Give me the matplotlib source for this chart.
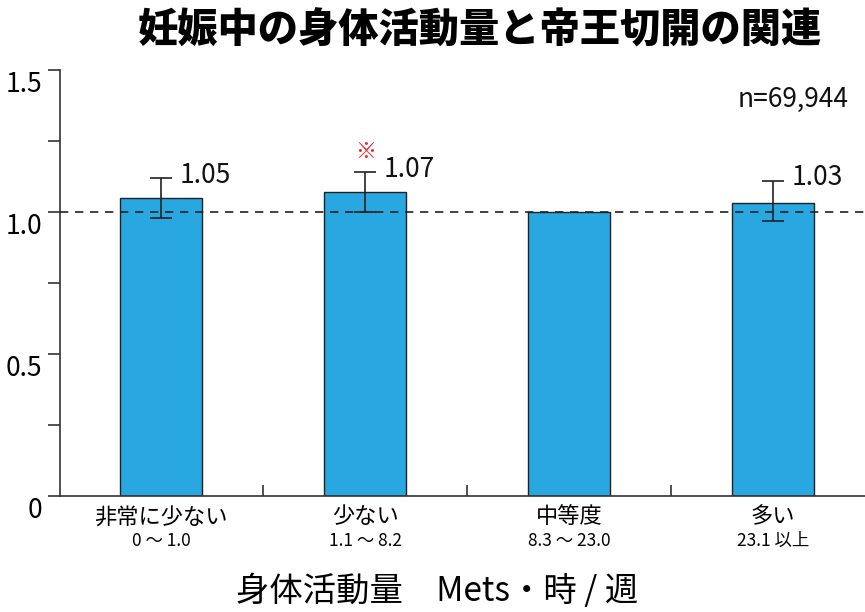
import numpy as np
import matplotlib.pyplot as plt
from matplotlib.ticker import MultipleLocator, FixedLocator
from matplotlib.transforms import ScaledTranslation

plt.rcParams['font.family'] = ['Noto Sans CJK JP', 'DejaVu Sans']

categories = ['非常に少ない', '少ない', '中等度', '多い']
ranges = ['0 〜 1.0', '1.1 〜 8.2', '8.3 〜 23.0', '23.1 以上']
odds = [1.05, 1.07, 1.00, 1.03]
ci_low = [0.98, 1.00, np.nan, 0.97]
ci_high = [1.12, 1.14, np.nan, 1.11]
labels = ['1.05', '1.07', '', '1.03']
significant = [False, True, False, False]

fig = plt.figure(figsize=(8.65, 6.12), dpi=100)
ax = fig.add_axes([0.0694, 0.1895, 0.9306, 0.6961])

x = np.arange(len(categories))
ax.bar(x, odds, width=0.405, color='#29a7e1', edgecolor='#222222', linewidth=1.0, zorder=2)

# error bars (reference group has none)
lo = np.array(odds) - np.array(ci_low)
hi = np.array(ci_high) - np.array(odds)
ax.errorbar(x, odds, yerr=[lo, hi], fmt='none', ecolor='#222222', elinewidth=1.2,
            capsize=8, capthick=1.2, zorder=4)

ax.axhline(1.0, color='#222222', linestyle=(0, (5, 4)), linewidth=1.2, zorder=3)

for xi, h, lab in zip(x, ci_high, labels):
    if lab:
        ax.text(xi + 0.09, h + 0.01, lab, fontsize=19, va='center', ha='left', color='#111111')
for xi, h, s in zip(x, ci_high, significant):
    if s:
        ax.text(xi, h + 0.07, '※', fontsize=15, color='#ee1c25', ha='center', va='center')

ax.text(3.37, 1.395, 'n=69,944', fontsize=19, ha='right', va='center', color='#111111')

ax.set_xlim(-0.495, 3.45)
ax.set_ylim(0, 1.5)
ax.set_yticks([0, 0.5, 1.0, 1.5])
ax.set_yticklabels(['0', '0.5', '1.0', '1.5'], fontsize=19)
ax.yaxis.set_minor_locator(MultipleLocator(0.25))
ax.tick_params(axis='y', which='both', direction='out', length=9, width=1.2, color='#333333', pad=4)
# the labels in the original sit a little below their ticks
shift = ScaledTranslation(0, -8 / 72, fig.dpi_scale_trans)
for lab in ax.get_yticklabels():
    lab.set_transform(lab.get_transform() + shift)

ax.set_xticks(x)
ax.set_xticklabels([''] * len(x))
ax.xaxis.set_minor_locator(FixedLocator([0.5, 1.5, 2.5]))
ax.tick_params(axis='x', which='major', length=0)
ax.tick_params(axis='x', which='minor', direction='in', length=8, width=1.2, color='#333333')

for xi, c, r in zip(x, categories, ranges):
    ax.text(xi, -0.022, c, transform=ax.get_xaxis_transform(), fontsize=16, ha='center', va='top')
    ax.text(xi, -0.085, r, transform=ax.get_xaxis_transform(), fontsize=12.5, ha='center', va='top')

ax.spines['top'].set_visible(False)
ax.spines['right'].set_visible(False)
ax.spines['left'].set_linewidth(1.2)
ax.spines['bottom'].set_linewidth(1.2)
ax.spines['left'].set_color('#333333')
ax.spines['bottom'].set_color('#333333')

fig.text(0.505, 0.033, '身体活動量　Mets・時 / 週', fontsize=24, ha='center', va='center')
fig.text(0.555, 0.95, '妊娠中の身体活動量と帝王切開の関連', fontsize=29, fontweight='black',
         ha='center', va='center')

fig.savefig('out.png', dpi=100)
